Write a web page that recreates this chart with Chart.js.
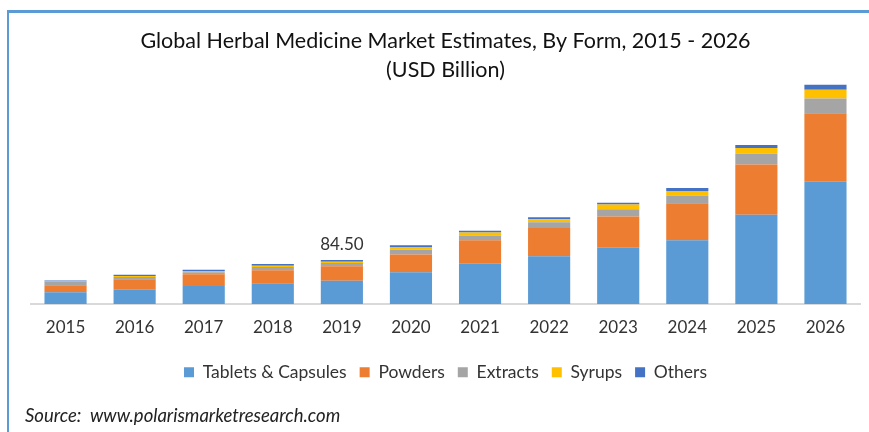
<!DOCTYPE html>
<html>
<head>
<meta charset="utf-8">
<script src="https://cdn.jsdelivr.net/npm/chart.js@4"></script>
<style>
  body { margin: 0; background: #fff; }
  #wrap { position: relative; width: 869px; height: 432px; overflow: hidden; }
  #frame {
    position: absolute; left: 7px; top: 10px; right: -5px; bottom: -5px;
    border-top: 3px solid #5b9bd5; border-left: 2px solid #5b9bd5;
  }
  #chart { position: absolute; left: 0; top: 0; }
  #source {
    position: absolute; left: 25px; top: 404px;
    font: italic 18.5px Lato, sans-serif; color: #222;
  }
</style>
</head>
<body>
<div id="wrap">
  <div id="frame"></div>
  <canvas id="chart" width="869" height="432"></canvas>
  <div id="source">Source:&nbsp; www.polarismarketresearch.com</div>
</div>
<script>
const years = ["2015", "2016", "2017", "2018", "2019", "2020", "2021", "2022", "2023", "2024", "2025", "2026"];
const tablets = [22.5, 27.6, 34.6, 39.8, 44.8, 60.9, 77.4, 91.4, 108.1, 122.3, 170.9, 234.2];
const powders = [13.4, 19.8, 22.5, 25.0, 27.6, 34.0, 44.7, 54.5, 59.5, 71.0, 96.6, 131.1];
const extracts = [6.3, 4.4, 3.8, 6.3, 6.3, 9.0, 9.0, 10.8, 14.2, 14.6, 20.5, 28.2];
const syrups = [1.3, 1.9, 2.5, 2.5, 2.5, 5.2, 5.8, 5.8, 8.8, 8.4, 10.9, 16.7];
const others = [1.9, 2.5, 2.5, 3.3, 3.3, 3.8, 3.3, 3.8, 3.3, 5.8, 5.8, 9.6];
const labelYear = "2019";
const labelText = "84.50";

const font = "Lato, sans-serif";

// writes the total above the 2019 column
const totalLabel = {
  id: "totalLabel",
  afterDatasetsDraw(chart) {
    const i = years.indexOf(labelYear);
    const last = chart.getDatasetMeta(chart.data.datasets.length - 1).data[i];
    const ctx = chart.ctx;
    ctx.save();
    ctx.font = "17px " + font;
    ctx.fillStyle = "#333";
    ctx.textAlign = "center";
    ctx.textBaseline = "bottom";
    ctx.fillText(labelText, last.x, last.y - 7);
    ctx.restore();
  },
};

const ds = (label, data, color) => ({
  label: label,
  data: data,
  backgroundColor: color,
  borderWidth: 0,
  barPercentage: 0.61,
  categoryPercentage: 1,
});

new Chart(document.getElementById("chart"), {
  type: "bar",
  data: {
    labels: years,
    datasets: [
      ds("Tablets & Capsules", tablets, "#5b9bd5"),
      ds("Powders", powders, "#ed7d31"),
      ds("Extracts", extracts, "#a5a5a5"),
      ds("Syrups", syrups, "#ffc000"),
      ds("Others", others, "#4472c4"),
    ],
  },
  options: {
    responsive: false,
    animation: false,
    layout: { padding: { left: 31, right: 9, top: 0, bottom: 41 } },
    plugins: {
      title: {
        display: true,
        text: ["Global Herbal Medicine Market Estimates, By Form, 2015 - 2026", "(USD Billion)"],
        color: "#111",
        font: { family: font, size: 21.5, weight: "normal", lineHeight: 1.35 },
        padding: { top: 27, bottom: -16 },
      },
      legend: {
        position: "bottom",
        labels: {
          color: "#333",
          font: { family: font, size: 17.5 },
          boxWidth: 10,
          boxHeight: 10,
          padding: 13,
        },
      },
      tooltip: { enabled: false },
    },
    scales: {
      x: {
        stacked: true,
        grid: { display: false, drawTicks: false },
        border: { color: "#d9d9d9", width: 2 },
        ticks: { color: "#333", font: { family: font, size: 17 }, padding: 13 },
      },
      y: {
        stacked: true,
        display: false,
        min: 0,
        max: 450,
      },
    },
  },
  plugins: [totalLabel],
});
</script>
</body>
</html>
